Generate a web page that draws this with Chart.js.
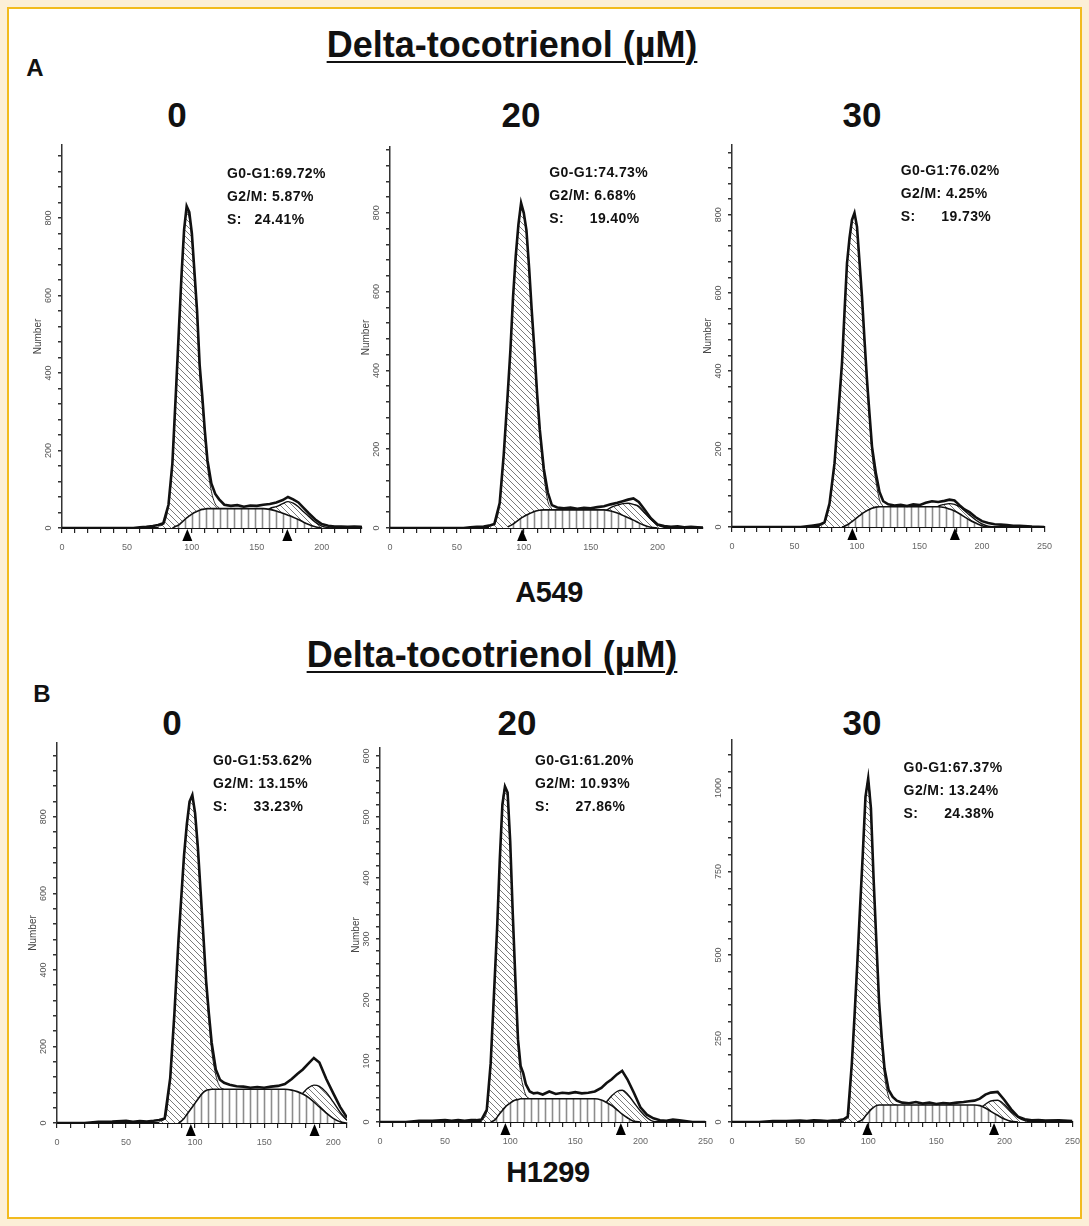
<!DOCTYPE html>
<html>
<head>
<meta charset="utf-8">
<script src="https://cdn.jsdelivr.net/npm/chart.js@4.4.1/dist/chart.umd.min.js"></script>
<style>
  html, body { margin: 0; padding: 0; }
  body {
    width: 1089px; height: 1226px; position: relative; overflow: hidden;
    background: #fcefd7;
    font-family: "Liberation Sans", Arial, sans-serif;
  }
  #frame {
    position: absolute; left: 7px; top: 7px; width: 1071px; height: 1208px;
    border: 2px solid #f2bb1e; background: #fff;
  }
  .txt { position: absolute; font-weight: bold; color: #111; white-space: nowrap; line-height: 1; }
  .under { text-decoration: underline; text-decoration-thickness: 2px; text-underline-offset: 4px; }
  .narrow { letter-spacing: -0.4px; }
  canvas { position: absolute; }
</style>
</head>
<body>
<div id="frame"></div>
<script>
const _ = null;
/* DNA content channels shared by all six histograms */
const channels = [
  0, 10, 20, 30, 40, 50, 55, 60, 65, 70,
  74, 78, 82, 85, 88, 90, 92, 94, 96, 98,
  100, 102, 104, 106, 108, 110, 112, 115, 118, 121,
  125, 130, 135, 140, 145, 150, 155, 160, 165, 170,
  174, 178, 182, 186, 190, 195, 200, 205, 210, 215,
  220, 225, 230, 240, 250,
];

/* A549, 0 uM */
const a549d0Total = [
  0, 0, 0, 0, 0, 0, 0, 2, 3, 5,
  8, 12, 60, 167, 370, 511, 650, 769, 830, 815,
  760, 660, 560, 420, 340, 250, 175, 115, 88, 74,
  60, 57, 59, 55, 58, 57, 60, 62, 66, 72,
  80, 74, 66, 52, 38, 22, 10, 6, 4, 4,
  3, 4, 3, 0, 0,
];
const a549d0G1 = [
  _, _, _, _, _, _, _, _, _, _,
  5, 10, 58, 163, 362, 500, 638, 755, 815, 800,
  745, 645, 545, 405, 325, 235, 160, 95, 62, 52,
  _, _, _, _, _, _, _, _, _, _,
  _, _, _, _, _, _, _, _, _, _,
  _, _, _, _, _,
];
const a549d0S = [
  _, _, _, _, _, _, _, _, _, _,
  _, _, _, 0, 5, 8, 14, 20, 26, 31,
  36, 40, 43, 46, 48, 49, 50, 50, 50, 50,
  50, 50, 50, 50, 50, 50, 50, 48, 44, 38,
  33, 28, 22, 15, 9, 3, 0, _, _, _,
  _, _, _, _, _,
];
const a549d0G2 = [
  _, _, _, _, _, _, _, _, _, _,
  _, _, _, _, _, _, _, _, _, _,
  _, _, _, _, _, _, _, _, _, _,
  _, _, _, _, 0, 10, 30, 50, 55, 63,
  68, 64, 55, 42, 30, 15, 5, 1, 0, _,
  _, _, _, _, _,
];
const a549d0Stats = ["G0-G1:69.72%", "G2/M: 5.87%", "S:   24.41%"];
const a549d0Peaks = [96.5, 173.5];

/* A549, 20 uM */
const a549d20Total = [
  0, 0, 0, 0, 0, 0, 0, 2, 3, 4,
  6, 10, 63, 185, 340, 450, 587, 690, 770, 825,
  800, 756, 660, 550, 450, 340, 249, 150, 90, 58,
  52, 50, 52, 49, 51, 50, 53, 55, 60, 64,
  68, 72, 75, 66, 48, 25, 9, 5, 3, 4,
  2, 3, 2, 0, 0,
];
const a549d20G1 = [
  _, _, _, _, _, _, _, _, _, _,
  5, 10, 62, 183, 337, 447, 583, 686, 765, 820,
  795, 750, 654, 542, 442, 330, 238, 135, 68, 48,
  _, _, _, _, _, _, _, _, _, _,
  _, _, _, _, _, _, _, _, _, _,
  _, _, _, _, _,
];
const a549d20S = [
  _, _, _, _, _, _, _, _, _, _,
  _, _, _, _, 3, 6, 10, 15, 20, 25,
  29, 33, 36, 39, 42, 44, 45, 46, 46, 46,
  46, 46, 46, 46, 46, 46, 46, 46, 43, 38,
  32, 26, 20, 13, 7, 2, 0, _, _, _,
  _, _, _, _, _,
];
const a549d20G2 = [
  _, _, _, _, _, _, _, _, _, _,
  _, _, _, _, _, _, _, _, _, _,
  _, _, _, _, _, _, _, _, _, _,
  _, _, _, _, 0, 8, 22, 40, 52, 58,
  62, 63, 60, 55, 40, 22, 8, 2, 0, _,
  _, _, _, _, _,
];
const a549d20Stats = ["G0-G1:74.73%", "G2/M: 6.68%", "S:      19.40%"];
const a549d20Peaks = [98.8];

/* A549, 30 uM */
const a549d30Total = [
  0, 0, 0, 0, 0, 0, 0, 2, 4, 6,
  12, 60, 163, 290, 420, 550, 676, 740, 787, 805,
  770, 680, 590, 480, 377, 290, 206, 140, 90, 66,
  58, 55, 57, 54, 58, 56, 62, 66, 64, 67,
  70, 68, 56, 45, 38, 25, 15, 10, 7, 6,
  5, 3, 3, 1, 0,
];
const a549d30G1 = [
  _, _, _, _, _, _, _, _, _, 4,
  10, 58, 160, 287, 415, 545, 670, 735, 780, 798,
  763, 673, 582, 470, 366, 278, 190, 120, 70, 52,
  _, _, _, _, _, _, _, _, _, _,
  _, _, _, _, _, _, _, _, _, _,
  _, _, _, _, _,
];
const a549d30S = [
  _, _, _, _, _, _, _, _, _, _,
  _, _, _, _, 0, 2, 5, 9, 14, 19,
  24, 29, 34, 38, 42, 45, 48, 51, 52, 52,
  52, 52, 52, 52, 52, 52, 52, 52, 52, 50,
  46, 41, 34, 26, 18, 10, 3, 0, _, _,
  _, _, _, _, _,
];
const a549d30G2 = [
  _, _, _, _, _, _, _, _, _, _,
  _, _, _, _, _, _, _, _, _, _,
  _, _, _, _, _, _, _, _, _, _,
  _, _, _, _, _, 0, 15, 35, 53, 58,
  60, 58, 52, 42, 31, 18, 8, 2, 0, _,
  _, _, _, _, _,
];
const a549d30Stats = ["G0-G1:76.02%", "G2/M: 4.25%", "S:      19.73%"];
const a549d30Peaks = [96.3, 178.3];

/* H1299, 0 uM */
const h1299d0Total = [
  0, 0, 0, 3, 4, 6, 3, 5, 4, 6,
  8, 12, 118, 285, 480, 590, 700, 780, 840, 857,
  810, 720, 605, 490, 370, 285, 210, 140, 113, 105,
  100, 96, 95, 92, 94, 92, 95, 97, 102, 115,
  128, 140, 155, 170, 158, 115, 78, 42, 14, 5,
  3, 3, 2, 0, 0,
];
const h1299d0G1 = [
  _, _, _, _, _, _, _, _, _, _,
  5, 10, 115, 282, 475, 585, 695, 775, 835, 850,
  803, 712, 597, 480, 360, 270, 190, 125, 95, 88,
  _, _, _, _, _, _, _, _, _, _,
  _, _, _, _, _, _, _, _, _, _,
  _, _, _, _, _,
];
const h1299d0S = [
  _, _, _, _, _, _, _, _, _, _,
  _, _, _, _, 0, 5, 12, 22, 32, 42,
  52, 62, 72, 80, 85, 87, 88, 88, 88, 88,
  88, 88, 88, 88, 88, 88, 88, 88, 88, 86,
  82, 76, 67, 55, 42, 26, 12, 3, 0, _,
  _, _, _, _, _,
];
const h1299d0G2 = [
  _, _, _, _, _, _, _, _, _, _,
  _, _, _, _, _, _, _, _, _, _,
  _, _, _, _, _, _, _, _, _, _,
  _, _, _, _, _, _, 0, 10, 25, 45,
  62, 78, 92, 99, 96, 80, 55, 28, 8, 0,
  _, _, _, _, _,
];
const h1299d0Stats = ["G0-G1:53.62%", "G2/M: 13.15%", "S:      33.23%"];
const h1299d0Peaks = [96.9, 186.5];

/* H1299, 20 uM */
const h1299d20Total = [
  0, 0, 0, 2, 2, 3, 2, 3, 2, 3,
  3, 4, 20, 96, 230, 320, 430, 520, 550, 540,
  460, 340, 233, 135, 92, 80, 62, 50, 47, 48,
  45, 50, 46, 48, 47, 49, 47, 48, 50, 56,
  64, 70, 78, 84, 70, 48, 24, 12, 6, 3,
  2, 4, 3, 0, 0,
];
const h1299d20G1 = [
  _, _, _, _, _, _, _, _, _, _,
  _, 3, 18, 94, 228, 318, 428, 518, 548, 535,
  455, 335, 226, 128, 80, 58, 44, 38, _, _,
  _, _, _, _, _, _, _, _, _, _,
  _, _, _, _, _, _, _, _, _, _,
  _, _, _, _, _,
];
const h1299d20S = [
  _, _, _, _, _, _, _, _, _, _,
  _, _, _, 0, 3, 8, 14, 19, 24, 28,
  31, 34, 36, 37, 38, 38, 38, 38, 38, 38,
  38, 38, 38, 38, 38, 38, 38, 38, 38, 36,
  32, 27, 20, 13, 7, 1, 0, _, _, _,
  _, _, _, _, _,
];
const h1299d20G2 = [
  _, _, _, _, _, _, _, _, _, _,
  _, _, _, _, _, _, _, _, _, _,
  _, _, _, _, _, _, _, _, _, _,
  _, _, _, _, _, _, 0, 5, 12, 22,
  33, 43, 50, 52, 46, 32, 18, 7, 1, 0,
  _, _, _, _, _,
];
const h1299d20Stats = ["G0-G1:61.20%", "G2/M: 10.93%", "S:      27.86%"];
const h1299d20Peaks = [96.3, 185];

/* H1299, 30 uM */
const h1299d30Total = [
  0, 0, 0, 3, 3, 4, 3, 5, 4, 3,
  4, 5, 8, 16, 176, 320, 475, 640, 800, 974,
  1029, 940, 725, 540, 360, 250, 160, 96, 75, 64,
  58, 56, 60, 55, 58, 54, 57, 55, 58, 60,
  62, 64, 70, 82, 88, 90, 66, 38, 16, 8,
  5, 6, 4, 5, 3,
];
const h1299d30G1 = [
  _, _, _, _, _, _, _, _, _, _,
  _, _, 6, 14, 172, 315, 470, 635, 795, 968,
  1020, 932, 715, 530, 350, 235, 140, 75, 55, 51,
  _, _, _, _, _, _, _, _, _, _,
  _, _, _, _, _, _, _, _, _, _,
  _, _, _, _, _,
];
const h1299d30S = [
  _, _, _, _, _, _, _, _, _, _,
  _, _, _, _, _, _, 0, 3, 8, 18,
  28, 37, 44, 49, 51, 51, 51, 51, 51, 51,
  51, 51, 51, 51, 51, 51, 51, 51, 51, 51,
  51, 51, 49, 42, 32, 20, 9, 2, 0, _,
  _, _, _, _, _,
];
const h1299d30G2 = [
  _, _, _, _, _, _, _, _, _, _,
  _, _, _, _, _, _, _, _, _, _,
  _, _, _, _, _, _, _, _, _, _,
  _, _, _, _, _, _, _, 0, 3, 8,
  15, 27, 40, 53, 63, 65, 52, 30, 14, 4,
  0, _, _, _, _,
];
const h1299d30Stats = ["G0-G1:67.37%", "G2/M: 13.24%", "S:      24.38%"];
const h1299d30Peaks = [99.4, 192.4];

const FONT = "'Liberation Sans', Arial, sans-serif";

/* hatch fills */
function hatch(kind, color) {
  const c = document.createElement("canvas");
  const s = kind === "diag" ? 6 : 7;
  c.width = s;
  c.height = s;
  const g = c.getContext("2d");
  g.fillStyle = "#fff";
  g.fillRect(0, 0, s, s);
  g.strokeStyle = color;
  g.lineWidth = kind === "diag" ? 1 : 1.6;
  g.beginPath();
  if (kind === "diag") {
    g.moveTo(0, 0); g.lineTo(s, s);
    g.moveTo(-1, s - 1); g.lineTo(1, s + 1);
    g.moveTo(s - 1, -1); g.lineTo(s + 1, 1);
  } else {
    g.moveTo(s / 2, 0); g.lineTo(s / 2, s);
  }
  g.stroke();
  return g.createPattern(c, "repeat");
}
const diagFill = hatch("diag", "#7a7a7a");
const vertFill = hatch("vert", "#8c8c8c");

function toPoints(values) {
  return channels
    .map((c, i) => ({ x: c, y: values[i] }))
    .filter((p) => p.y !== null);
}

function addText(text, cx, baseline, size, cls) {
  const d = document.createElement("div");
  d.className = "txt " + (cls || "");
  d.textContent = text;
  d.style.fontSize = size + "px";
  d.style.top = baseline - 0.8465 * size + "px";
  d.style.left = cx + "px";
  d.style.transform = "translateX(-50%)";
  document.body.appendChild(d);
}

function buildPanel(p) {
  const yW = 34, xH = 28, padTop = 6, padRight = 14;
  const cv = document.createElement("canvas");
  const w = yW + p.box.w + padRight;
  const h = padTop + p.box.h + xH;
  cv.width = w;
  cv.height = h;
  cv.style.left = p.box.x - yW + "px";
  cv.style.top = p.box.y - padTop + "px";
  document.body.appendChild(cv);

  /* labels, peak markers and percentages drawn through the scales */
  const decor = {
    id: "decor",
    afterDraw(chart) {
      const { ctx, chartArea } = chart;
      const xs = chart.scales.x;
      const ys = chart.scales.y;
      ctx.save();
      ctx.fillStyle = "#555";
      ctx.font = "9px " + FONT;
      ctx.textAlign = "center";
      ctx.textBaseline = "middle";
      ys.ticks.forEach((t) => {
        if (t.value % p.yLabelStep !== 0) return;
        ctx.save();
        ctx.translate(chartArea.left - 13, ys.getPixelForValue(t.value));
        ctx.rotate(-Math.PI / 2);
        ctx.fillText(String(t.value), 0, 0);
        ctx.restore();
      });
      ctx.fillStyle = "#000";
      p.peaks.forEach((m) => {
        const px = xs.getPixelForValue(m);
        const py = chartArea.bottom + 1;
        ctx.beginPath();
        ctx.moveTo(px, py);
        ctx.lineTo(px - 5, py + 12);
        ctx.lineTo(px + 5, py + 12);
        ctx.closePath();
        ctx.fill();
      });
      ctx.font = "bold 14px " + FONT;
      ctx.letterSpacing = "0.4px";
      ctx.textAlign = "left";
      ctx.textBaseline = "alphabetic";
      ctx.fillStyle = "#111";
      const sx = xs.getPixelForValue(p.statsAt[0]);
      const sy = ys.getPixelForValue(p.statsAt[1]);
      p.stats.forEach((line, i) => ctx.fillText(line, sx, sy + i * 23));
      ctx.restore();
    },
  };

  new Chart(cv, {
    type: "line",
    data: {
      datasets: [
        {
          label: "Total",
          data: toPoints(p.total),
          borderColor: "#111",
          borderWidth: 2.6,
          pointRadius: 0,
          tension: 0,
          fill: false,
          order: 0,
        },
        {
          label: "S",
          data: toPoints(p.s),
          borderColor: "#111",
          borderWidth: 1.6,
          pointRadius: 0,
          cubicInterpolationMode: "monotone",
          fill: "origin",
          backgroundColor: vertFill,
          order: 1,
        },
        {
          label: "G2/M",
          data: toPoints(p.g2),
          borderColor: "#111",
          borderWidth: 1.4,
          pointRadius: 0,
          cubicInterpolationMode: "monotone",
          fill: "origin",
          backgroundColor: diagFill,
          order: 2,
        },
        {
          label: "G0-G1",
          data: toPoints(p.g1),
          borderColor: "#222",
          borderWidth: 1,
          pointRadius: 0,
          cubicInterpolationMode: "monotone",
          fill: "origin",
          backgroundColor: diagFill,
          order: 3,
        },
      ],
    },
    options: {
      responsive: false,
      animation: false,
      layout: { padding: { left: 0, top: padTop, right: padRight, bottom: 0 }, autoPadding: false },
      plugins: { legend: { display: false }, tooltip: { enabled: false } },
      scales: {
        x: {
          type: "linear",
          min: 0,
          max: p.xMax,
          afterFit: (s) => { s.height = xH; },
          border: { color: "#111", width: 2 },
          grid: { drawOnChartArea: false, tickLength: 5, color: "#222", lineWidth: 1.2 },
          ticks: {
            stepSize: 10,
            autoSkip: false,
            includeBounds: false,
            maxRotation: 0,
            minRotation: 0,
            padding: 9,
            color: "#666",
            font: { size: 9, family: FONT },
            callback: (v) => (v % 50 === 0 ? String(v) : ""),
          },
        },
        y: {
          min: 0,
          max: p.yMax,
          afterFit: (s) => { s.width = yW; },
          border: { color: "#333", width: 1.5 },
          grid: { drawOnChartArea: false, tickLength: 4, color: "#333", lineWidth: 1.5 },
          ticks: { stepSize: p.yStep, display: false, includeBounds: false, autoSkip: false },
          title: {
            display: p.yTitle,
            text: "Number",
            color: "#444",
            font: { size: 10, family: FONT },
            padding: { top: 4, bottom: 0 },
          },
        },
      },
    },
    plugins: [decor],
  });
}

/* figure text */
addText("Delta-tocotrienol (µM)", 512, 57, 36, "under");
addText("A", 35, 76, 24);
addText("0", 177, 127, 35);
addText("20", 521, 127, 35);
addText("30", 862, 127, 35);
addText("A549", 549, 603, 29, "narrow");
addText("Delta-tocotrienol (µM)", 492, 667, 36, "under");
addText("B", 42, 702, 24);
addText("0", 172, 735, 35);
addText("20", 517, 735, 35);
addText("30", 862, 735, 35);
addText("H1299", 548, 1183, 29, "narrow");

/* A549 row */
buildPanel({ box: { x: 62, y: 145, w: 300, h: 383 }, xMax: 231, yMax: 988, yStep: 40, yLabelStep: 200, yTitle: true,
  total: a549d0Total, g1: a549d0G1, s: a549d0S, g2: a549d0G2, peaks: a549d0Peaks, stats: a549d0Stats, statsAt: [127, 903] });
buildPanel({ box: { x: 390, y: 147, w: 313, h: 381 }, xMax: 234, yMax: 967, yStep: 40, yLabelStep: 200, yTitle: true,
  total: a549d20Total, g1: a549d20G1, s: a549d20S, g2: a549d20G2, peaks: a549d20Peaks, stats: a549d20Stats, statsAt: [119, 890] });
buildPanel({ box: { x: 732, y: 145, w: 315, h: 382 }, xMax: 250, yMax: 979, yStep: 40, yLabelStep: 200, yTitle: true,
  total: a549d30Total, g1: a549d30G1, s: a549d30S, g2: a549d30G2, peaks: a549d30Peaks, stats: a549d30Stats, statsAt: [135, 902] });

/* H1299 row */
buildPanel({ box: { x: 57, y: 743, w: 290, h: 380 }, xMax: 210, yMax: 993, yStep: 40, yLabelStep: 200, yTitle: true,
  total: h1299d0Total, g1: h1299d0G1, s: h1299d0S, g2: h1299d0G2, peaks: h1299d0Peaks, stats: h1299d0Stats, statsAt: [113, 936] });
buildPanel({ box: { x: 380, y: 748, w: 328, h: 374 }, xMax: 250, yMax: 613, yStep: 20, yLabelStep: 100, yTitle: true,
  total: h1299d20Total, g1: h1299d20G1, s: h1299d20S, g2: h1299d20G2, peaks: h1299d20Peaks, stats: h1299d20Stats, statsAt: [119, 585] });
buildPanel({ box: { x: 732, y: 740, w: 343, h: 382 }, xMax: 250, yMax: 1144, yStep: 50, yLabelStep: 250, yTitle: false,
  total: h1299d30Total, g1: h1299d30G1, s: h1299d30S, g2: h1299d30G2, peaks: h1299d30Peaks, stats: h1299d30Stats, statsAt: [126, 1048] });
</script>
</body>
</html>
